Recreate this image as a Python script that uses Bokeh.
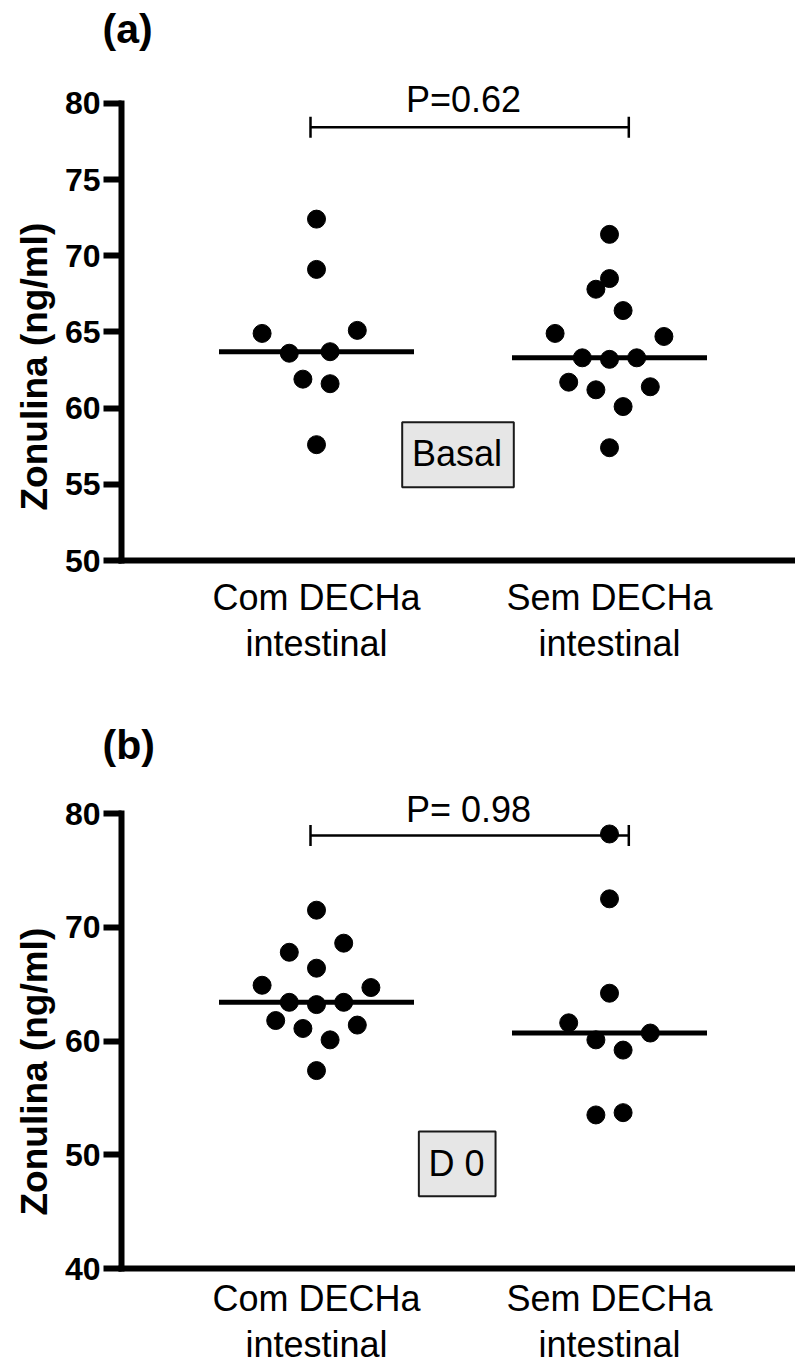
import numpy as np
from bokeh.plotting import figure
from bokeh.models import Range1d, FixedTicker, Title
from bokeh.layouts import column
from bokeh.embed import file_html
from bokeh.resources import INLINE
from bokeh.core.properties import value

# ---------------- data ----------------
categories = ["Com DECHa\nintestinal", "Sem DECHa\nintestinal"]

basal_com = [72.4, 69.1, 64.9, 65.1, 63.6, 63.7, 61.9, 61.6, 57.6]
basal_com_slot = [0, 0, -4, 3, -2, 1, -1, 1, 0]
basal_sem = [71.4, 68.5, 67.8, 66.4, 64.9, 64.7, 63.3, 63.2, 63.3, 61.7, 61.2, 61.4, 60.1, 57.4]
basal_sem_slot = [0, 0, -1, 1, -4, 4, -2, 0, 2, -3, -1, 3, 1, 0]

d0_com = [71.5, 67.8, 68.6, 66.4, 64.9, 64.7, 63.4, 63.2, 63.4, 61.8, 61.1, 61.4, 60.1, 57.4]
d0_com_slot = [0, -2, 2, 0, -4, 4, -2, 0, 2, -3, -1, 3, 1, 0]
d0_sem = [78.2, 72.5, 64.2, 61.6, 60.7, 60.1, 59.2, 53.5, 53.7]
d0_sem_slot = [0, 0, 0, -3, 3, -1, 1, -1, 1]

basal_ticks = [50, 55, 60, 65, 70, 75, 80]
d0_ticks = [40, 50, 60, 70, 80]
p_texts = ["P=0.62", "P= 0.98"]
panel_tags = ["(a)", "(b)"]
box_texts = ["Basal", "D 0"]
y_label = "Zonulina (ng/ml)"

# ---------------- layout constants (pixels) ----------------
FONT = "Liberation Sans"
PAGE_W = 795
LEFT_BORDER = 121          # frame left at page x = 121
CAT_PX = 293.0             # pixel distance between the two groups
CAT1_PAGE_X = 316.0        # page x of first group
SLOT_PX = 13.6             # horizontal swarm step


def xd(px):
    return 1 + (px - CAT1_PAGE_X) / CAT_PX


def make_panel(tag, ptext, boxtext, groups, slots, ticks, fig_top, fig_h,
               frame_top, frame_bottom, ppu, standoff, anchors):
    y_min, y_max = ticks[0], ticks[-1]
    frame_h = frame_bottom - frame_top
    frame_w = PAGE_W - LEFT_BORDER

    def yd(py):
        return y_min + (frame_bottom - py) / ppu

    x_start = xd(LEFT_BORDER)
    p = figure(width=PAGE_W, height=fig_h, output_backend="svg",
               toolbar_location=None,
               x_range=Range1d(x_start, x_start + frame_w / CAT_PX),
               y_range=Range1d(y_min, y_min + frame_h / ppu),
               min_border_left=LEFT_BORDER, min_border_right=0,
               min_border_top=int(frame_top - fig_top),
               min_border_bottom=int(fig_top + fig_h - frame_bottom))
    p.outline_line_color = None
    p.xgrid.visible = False
    p.ygrid.visible = False
    p.background_fill_color = "white"
    p.border_fill_color = "white"

    # panel tag as title
    p.title.text = tag
    p.title.align = "left"
    p.title.offset = anchors["tag_offset"]
    p.title.text_font = FONT
    p.title.text_font_size = "41px"
    p.title.text_font_style = "bold"
    p.title.text_color = "black"
    p.title.standoff = 0

    # y axis
    ya = p.yaxis[0]
    ya.ticker = FixedTicker(ticks=ticks)
    ya.bounds = (y_min, y_max)
    ya.axis_line_width = 6
    ya.axis_line_cap = "square"
    ya.major_tick_line_width = 6
    ya.major_tick_out = 18
    ya.major_tick_in = 0
    ya.minor_tick_line_color = None
    ya.major_label_standoff = 3
    ya.major_label_text_font = FONT
    ya.major_label_text_font_size = "32px"
    ya.major_label_text_font_style = "bold"
    ya.major_label_text_color = "black"

    # y axis title placed in the left panel
    p.add_layout(Title(text=y_label, align="left", offset=frame_bottom - anchors["ylabel_start"],
                       text_font=FONT, text_font_size="37px", text_font_style="bold",
                       text_color="black", standoff=13), "left")

    # x axis
    xa = p.xaxis[0]
    xa.ticker = FixedTicker(ticks=[1, 2])
    xa.major_label_overrides = {1: categories[0], 2: categories[1]}
    xa.axis_line_width = 6
    xa.axis_line_cap = "square"
    xa.major_tick_line_color = None
    xa.major_tick_out = 0
    xa.major_tick_in = 0
    xa.minor_tick_line_color = None
    xa.major_label_standoff = standoff
    xa.major_label_text_font = FONT
    xa.major_label_text_font_size = "36px"
    xa.major_label_text_line_height = 1.13
    xa.major_label_text_color = "black"

    half = 97.5 / CAT_PX
    for gi, (vals, sl) in enumerate(zip(groups, slots)):
        c = gi + 1
        xs = [c + s * SLOT_PX / CAT_PX for s in sl]
        p.scatter(xs, vals, size=18, color="black", marker="circle")
        m = float(np.median(vals))
        p.segment(x0=[c - half], x1=[c + half], y0=[m], y1=[m],
                  line_color="black", line_width=5)

    # significance bracket
    by = yd(anchors["bracket_y"])
    bx0, bx1 = xd(anchors["bracket_x0"]), xd(anchors["bracket_x1"])
    p.segment(x0=[bx0], x1=[bx1], y0=[by], y1=[by], line_color="black", line_width=2.5)
    p.scatter([bx0, bx1], [by, by], marker="dash", angle=np.pi / 2, size=21,
              line_color="black", line_width=2.5)
    p.text(x=[xd(anchors["ptext"][0])], y=[yd(anchors["ptext"][1])], text=[ptext],
           text_font=value(FONT), text_font_size="36px", text_align="center",
           text_baseline="middle", text_color="black")

    # label box
    bx = anchors["box"]
    p.rect(x=[xd(bx[0])], y=[yd(bx[1])], width=bx[2], height=bx[3],
           width_units="screen", height_units="screen",
           fill_color="#e6e6e6", line_color="#1a1a1a", line_width=2)
    p.text(x=[xd(anchors["boxtext"][0])], y=[yd(anchors["boxtext"][1])], text=[boxtext],
           text_font=value(FONT), text_font_size="36px", text_align="center",
           text_baseline="middle", text_color="black")
    return p


pa = make_panel(panel_tags[0], p_texts[0], box_texts[0],
                [basal_com, basal_sem], [basal_com_slot, basal_sem_slot], basal_ticks,
                fig_top=0, fig_h=700, frame_top=51, frame_bottom=560, ppu=15.24,
                standoff=16,
                anchors=dict(bracket_y=126.7, bracket_x0=310, bracket_x1=628.3,
                             ptext=(463, 99.3),
                             box=(457.5, 454.2, 111.6, 65), boxtext=(456.5, 453.3),
                             ylabel_start=510, tag_offset=-19))

pb = make_panel(panel_tags[1], p_texts[1], box_texts[1],
                [d0_com, d0_sem], [d0_com_slot, d0_sem_slot], d0_ticks,
                fig_top=700, fig_h=668, frame_top=767, frame_bottom=1268, ppu=11.375,
                standoff=9,
                anchors=dict(bracket_y=835, bracket_x0=310, bracket_x1=628.3,
                             ptext=(468, 809),
                             box=(456.7, 1163.3, 76.7, 64.7), boxtext=(456, 1163),
                             ylabel_start=1215, tag_offset=-19))

layout = column(pa, pb, spacing=0)
open("out.html", "w").write(file_html(layout, INLINE))
